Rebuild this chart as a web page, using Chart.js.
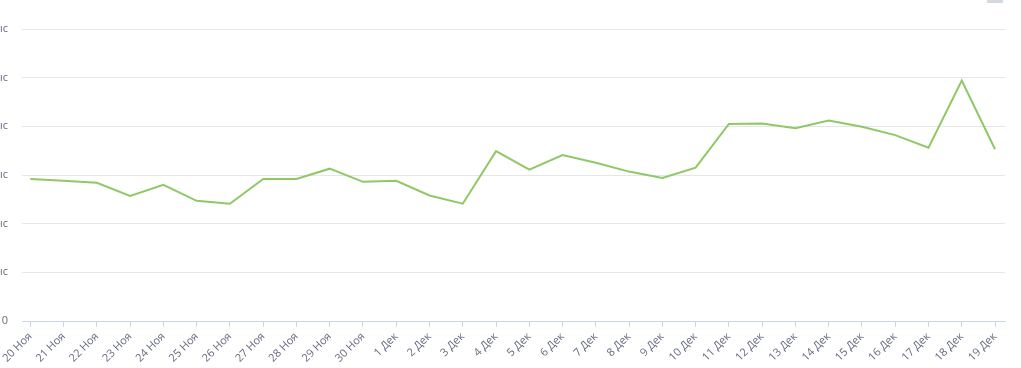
<!DOCTYPE html>
<html><head><meta charset="utf-8">
<script src="https://cdn.jsdelivr.net/npm/chart.js@4.4.0/dist/chart.umd.min.js"></script>
<style>
html,body{margin:0;padding:0;background:#fff;overflow:hidden;width:1021px;height:368px;}
#wrap{position:absolute;left:-40px;top:0;width:1061px;height:368px;}
#menu{position:absolute;left:987px;top:0;width:16px;height:3px;background:#d4d8e0;}
</style></head><body>
<div id="wrap"><canvas id="c"></canvas></div>
<div id="menu"></div>
<script>
const categories = ["20 Ноя","21 Ноя","22 Ноя","23 Ноя","24 Ноя","25 Ноя","26 Ноя","27 Ноя","28 Ноя","29 Ноя","30 Ноя","1 Дек","2 Дек","3 Дек","4 Дек","5 Дек","6 Дек","7 Дек","8 Дек","9 Дек","10 Дек","11 Дек","12 Дек","13 Дек","14 Дек","15 Дек","16 Дек","17 Дек","18 Дек","19 Дек"];
const values = [29.2,28.8,28.4,25.7,28.0,24.7,24.1,29.2,29.2,31.3,28.6,28.8,25.8,24.1,34.9,31.1,34.1,32.5,30.7,29.4,31.5,40.5,40.6,39.6,41.2,39.9,38.2,35.6,49.4,35.3];
const yTickLabels = ["0","10 тыс","20 тыс","30 тыс","40 тыс","50 тыс","60 тыс"];

const points = values.map((v,i)=>({x:i,y:v}));
const font = {family:"'Open Sans', 'DejaVu Sans', sans-serif", size:11};
new Chart(document.getElementById('c'), {
  type:'line',
  data:{datasets:[{data:points,borderColor:'#8fc866',borderWidth:2,pointRadius:0,pointHoverRadius:0,tension:0,fill:false}]},
  options:{
    responsive:true,maintainAspectRatio:false,animation:false,
    layout:{padding:{top:29,right:16,left:0,bottom:0}},
    plugins:{legend:{display:false},tooltip:{enabled:false}},
    scales:{
      x:{type:'linear',min:-0.25,max:29.3,
        afterBuildTicks:s=>{s.ticks=categories.map((_,i)=>({value:i}));},
        afterFit:s=>{s.height=47;},
        grid:{drawOnChartArea:false,drawTicks:true,tickLength:6,color:'#ccd6eb'},
        border:{display:true,color:'#ccd6eb',width:1},
        ticks:{autoSkip:false,minRotation:45,maxRotation:45,padding:3,color:'#666a7e',font:font,
          callback:v=>categories[v]}
      },
      y:{min:0,max:60,
        afterBuildTicks:s=>{s.ticks=yTickLabels.map((_,i)=>({value:i*10}));},
        afterFit:s=>{s.width=62;},
        grid:{color:'#e6e6e6',drawTicks:false,lineWidth:1},
        border:{display:false},
        ticks:{padding:14,color:'#666a7e',font:font,callback:(v)=>yTickLabels[Math.round(v/10)]}
      }
    }
  }
});
</script>
</body></html>
